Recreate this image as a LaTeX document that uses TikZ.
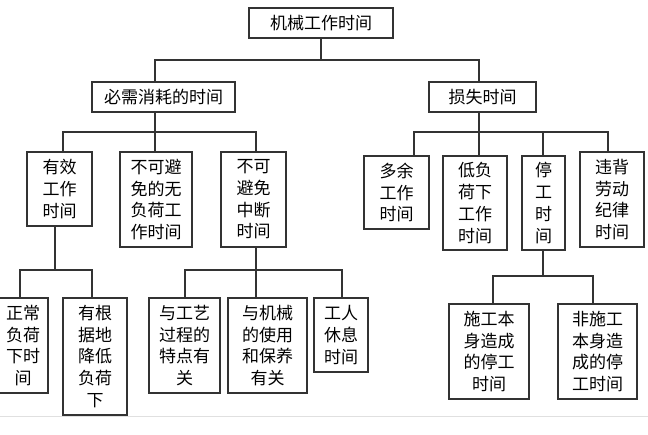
\documentclass[tikz,border=0pt]{standalone}
\usepackage{fontspec}
\newfontfamily\cjk{Noto Sans CJK SC}
\begin{document}
\begin{tikzpicture}[x=1pt,y=-1pt,line width=1.1pt,
  box/.style={draw=black!80,fill=white,inner sep=0pt,align=center,
    font=\cjk\fontsize{17}{21.7}\selectfont,text=black},
  link/.style={draw=black!80,line join=miter}]
 \useasboundingbox (0,0) rectangle (648,434);
 \draw[black!12,line width=1pt] (0,416) -- (648,416);
 \node[box,minimum width=144,minimum height=30] (root) at (321,23) {机械工作时间};
 \node[box,minimum width=143,minimum height=30] (need) at (163.5,97) {必需消耗的时间};
 \node[box,minimum width=107,minimum height=30] (loss) at (482.5,97) {损失时间};
 \node[box,minimum width=65,minimum height=74] (eff) at (59.5,189) {有效\\工作\\时间};
 \node[box,minimum width=72,minimum height=95] (noload) at (156,199.5) {不可避\\免的无\\负荷工\\作时间};
 \node[box,minimum width=65,minimum height=95] (pause) at (253.5,199.5) {不可\\避免\\中断\\时间};
 \node[box,minimum width=65,minimum height=73] (extra) at (396.5,192.5) {多余\\工作\\时间};
 \node[box,minimum width=64,minimum height=94] (lowload) at (475,203) {低负\\荷下\\工作\\时间};
 \node[box,minimum width=43,minimum height=94] (stop) at (543.5,203) {停\\工\\时\\间};
 \node[box,minimum width=64,minimum height=95] (disc) at (612,199.5) {违背\\劳动\\纪律\\时间};
 \node[box,minimum width=50,minimum height=95] (normal) at (23,345.5) {正常\\负荷\\下时\\间};
 \node[box,minimum width=64,minimum height=117] (reduced) at (95,356.5) {有根\\据地\\降低\\负荷\\下};
 \node[box,minimum width=71,minimum height=95] (proc) at (184.5,345.5) {与工艺\\过程的\\特点有\\关};
 \node[box,minimum width=79,minimum height=95] (mach) at (267.5,345.5) {与机械\\的使用\\和保养\\有关};
 \node[box,minimum width=54,minimum height=74] (rest) at (341,335) {工人\\休息\\时间};
 \node[box,minimum width=80,minimum height=95] (selfstop) at (489,351.5) {施工本\\身造成\\的停工\\时间};
 \node[box,minimum width=79,minimum height=95] (extstop) at (597.5,351.5) {非施工\\本身造\\成的停\\工时间};
 \coordinate (k0) at (321,60);
 \coordinate (k1) at (155,60);
 \coordinate (k2) at (479,60);
 \draw[link] (root.south) -- (k0);
 \draw[link] (k1 |- need.north) -- (k1) -- (k2) -- (k2 |- loss.north);
 \coordinate (a0) at (155,132);
 \coordinate (a1) at (63,132);
 \coordinate (a3) at (256,132);
 \draw[link] (a0 |- need.south) -- (a0) -- (a0 |- noload.north);
 \draw[link] (a1 |- eff.north) -- (a1) -- (a3) -- (a3 |- pause.north);
 \coordinate (c0) at (479,132);
 \coordinate (c1) at (414,132);
 \coordinate (c3) at (543,132);
 \coordinate (c4) at (608,132);
 \draw[link] (c0 |- loss.south) -- (c0) -- (c0 |- lowload.north);
 \draw[link] (c1 |- extra.north) -- (c1) -- (c4) -- (c4 |- disc.north);
 \draw[link] (c3) -- (c3 |- stop.north);
 \coordinate (e0) at (55,270);
 \coordinate (e1) at (20,270);
 \coordinate (e2) at (92,270);
 \draw[link] (e0 |- eff.south) -- (e0);
 \draw[link] (e1 |- normal.north) -- (e1) -- (e2) -- (e2 |- reduced.north);
 \coordinate (p0) at (256,270);
 \coordinate (p1) at (185,270);
 \coordinate (p3) at (342,270);
 \draw[link] (p0 |- pause.south) -- (p0) -- (p0 |- mach.north);
 \draw[link] (p1 |- proc.north) -- (p1) -- (p3) -- (p3 |- rest.north);
 \coordinate (s0) at (543,276);
 \coordinate (s1) at (493,276);
 \coordinate (s2) at (593,276);
 \draw[link] (s0 |- stop.south) -- (s0);
 \draw[link] (s1 |- selfstop.north) -- (s1) -- (s2) -- (s2 |- extstop.north);
\end{tikzpicture}
\end{document}
